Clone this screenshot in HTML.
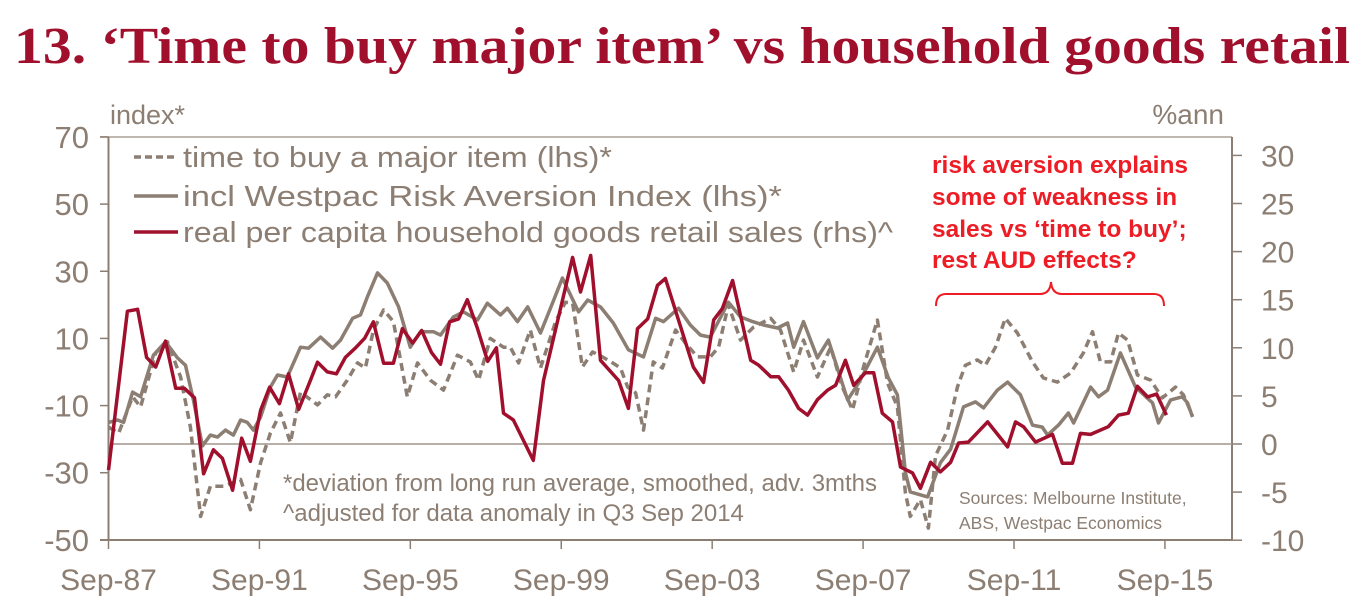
<!DOCTYPE html>
<html><head><meta charset="utf-8"><style>
html,body{margin:0;padding:0;background:#fff;width:1366px;height:613px;overflow:hidden}
svg text{font-family:"Liberation Sans",sans-serif}
</style></head><body>
<svg id="chart" width="1366" height="613" xmlns="http://www.w3.org/2000/svg">
<text x="14" y="63" textLength="1336" lengthAdjust="spacingAndGlyphs" style="font-family:'Liberation Serif',serif;font-weight:bold;font-size:52px" fill="#a0102d">13. ‘Time to buy major item’ vs household goods retail</text>
<text x="110" y="124" font-size="27" fill="#8c7e72">index*</text>
<text x="1224" y="124" font-size="28" fill="#8c7e72" text-anchor="end">%ann</text>
<g id="axes"></g>
<g id="series"></g>
<g>
<line x1="134" y1="157" x2="178" y2="157" stroke="#8c7e72" stroke-width="3.5" stroke-dasharray="7,4"/>
<text x="183" y="167" font-size="29" textLength="429" lengthAdjust="spacingAndGlyphs" fill="#8c7e72">time to buy a major item (lhs)*</text>
<line x1="134" y1="196" x2="178" y2="196" stroke="#8c7e72" stroke-width="3.5"/>
<text x="183" y="206" font-size="29" textLength="599" lengthAdjust="spacingAndGlyphs" fill="#8c7e72">incl Westpac Risk Aversion Index (lhs)*</text>
<line x1="134" y1="232" x2="178" y2="232" stroke="#a0102d" stroke-width="3.5"/>
<text x="183" y="242" font-size="29" textLength="710" lengthAdjust="spacingAndGlyphs" fill="#8c7e72">real per capita household goods retail sales (rhs)^</text>
</g>
<g font-weight="bold" font-size="24.5" fill="#ee1c25">
<text x="932" y="173">risk aversion explains</text>
<text x="932" y="205">some of weakness in</text>
<text x="932" y="237">sales vs ‘time to buy’;</text>
<text x="932" y="268">rest AUD effects?</text>
</g>
<path d="M936,306 Q936,294 946,294 L1040,294 Q1050,294 1051,282 Q1052,294 1062,294 L1154,294 Q1164,294 1164,306" fill="none" stroke="#ee1c25" stroke-width="2"/>
<text x="283" y="491" font-size="24" textLength="594" lengthAdjust="spacingAndGlyphs" fill="#8c7e72">*deviation from long run average, smoothed, adv. 3mths</text>
<text x="283" y="521" font-size="24" fill="#8c7e72">^adjusted for data anomaly in Q3 Sep 2014</text>
<text x="959" y="504" font-size="17.5" fill="#8c7e72">Sources: Melbourne Institute,</text>
<text x="959" y="529" font-size="17.5" fill="#8c7e72">ABS, Westpac Economics</text>
</svg>
<script>
const leftTicks=[70,50,30,10,-10,-30,-50];
const rightTicks=[30,25,20,15,10,5,0,-5,-10];
const xTickYears=[1987.75,1991.75,1995.75,1999.75,2003.75,2007.75,2011.75,2015.75];
const xTickLabels=["Sep-87","Sep-91","Sep-95","Sep-99","Sep-03","Sep-07","Sep-11","Sep-15"];

const retailDates=[1987.75,1988.25,1988.52,1988.76,1989.0,1989.26,1989.53,1989.76,1990.03,1990.27,1990.53,1990.77,1991.04,1991.28,1991.51,1991.78,1992.02,1992.28,1992.52,1992.79,1993.08,1993.29,1993.55,1993.79,1994.03,1994.30,1994.54,1994.77,1995.04,1995.30,1995.54,1995.81,1996.05,1996.31,1996.55,1996.79,1997.03,1997.26,1997.53,1997.80,1998.03,1998.22,1998.48,1999.01,1999.28,2000.05,2000.26,2000.53,2000.79,2001.27,2001.53,2001.77,2002.04,2002.30,2002.51,2003.25,2003.52,2003.79,2004.02,2004.29,2004.77,2004.98,2005.30,2005.51,2005.77,2006.04,2006.28,2006.54,2006.81,2007.02,2007.28,2007.50,2007.81,2008.03,2008.26,2008.53,2008.74,2009.06,2009.27,2009.54,2009.80,2010.07,2010.28,2010.54,2011.05,2011.58,2011.79,2012.0,2012.32,2012.77,2013.03,2013.30,2013.51,2013.78,2014.25,2014.52,2014.78,2015.02,2015.29,2015.53,2015.79];
const retailValues=[-2.7,13.8,14,9,8,10.7,5.8,5.8,4.8,-3.1,-0.6,-1.5,-4.8,0.6,-1.8,3.5,5.9,4.2,7.3,3.6,6.4,8.5,7.5,7.3,9,10,11,12.7,8.4,8.4,12,10.5,11.8,9.5,8.3,12.7,13,15,12,8.6,10,3.2,2.5,-1.7,6.6,19.4,15.8,19.6,8.7,6.6,3.7,12,13,16.5,17.2,8,6.4,12.9,14.1,17,8.7,8.2,7,7,5.6,3.7,3,4.6,5.6,6.1,8.7,6.1,7.4,7.4,3.2,2.3,-2.4,-3,-4.6,-1.9,-2.9,-1.9,0.1,0.2,2.3,-0.3,2.3,1.8,0.2,1,-2,-2,1.1,1,1.8,3,3.2,6,4.9,5.2,3];

const riskDates=[1987.75,1987.99,1988.15,1988.39,1988.6,1988.94,1989.26,1989.58,1989.79,1990.0,1990.24,1990.45,1990.64,1990.85,1991.06,1991.25,1991.43,1991.59,1991.78,1992.04,1992.23,1992.49,1992.84,1993.05,1993.37,1993.69,1993.9,1994.22,1994.43,1994.61,1994.88,1995.14,1995.44,1995.75,1996.02,1996.36,1996.55,1996.89,1997.16,1997.53,1997.79,1998.14,1998.32,1998.59,1998.86,1999.2,1999.55,1999.78,2000.21,2000.45,2000.79,2001.13,2001.53,2001.93,2002.25,2002.46,2002.86,2003.17,2003.44,2003.7,2004.18,2004.5,2004.82,2005.11,2005.48,2005.75,2005.91,2006.17,2006.54,2006.83,2007.34,2007.63,2008.13,2008.42,2008.66,2008.87,2009.0,2009.46,2009.8,2010.07,2010.41,2010.73,2010.94,2011.31,2011.58,2011.92,2012.24,2012.5,2012.64,2012.93,2013.19,2013.33,2013.78,2013.99,2014.23,2014.57,2014.97,2015.42,2015.58,2015.9,2016.21,2016.35,2016.48];
const riskValues=[-15,-14.3,-15,-6,-7.4,5,9,4.2,2,-8.3,-22,-18.8,-19.4,-17.3,-18.8,-14.3,-15,-17.3,-13.4,-4.5,-0.9,-1.5,7.4,7.1,10.4,7.1,9.5,16,17,22.3,29.5,26.5,19.4,7.4,12,12,11,16.4,17.9,15.5,20.5,17,19,15,19.4,11.6,21.4,28,17.9,21.4,19.4,14.6,6.6,4.5,16,15,19,14,11,10.4,20.8,16.4,15,14,13.1,14.6,7.4,15,4.2,9.5,-8.3,-3.3,7.4,-1.8,-6.8,-30,-35.7,-37.2,-27,-23,-10.4,-8.9,-10.7,-5.4,-3,-6.8,-15.8,-16.4,-18.8,-15.8,-12.2,-15.2,-4.5,-7.4,-5.4,5.7,-4.5,-9.2,-15.2,-8.3,-7.4,-9.2,-13.4];

const timeDates=[1987.75,1988.02,1988.39,1988.6,1989.0,1989.31,1989.66,1989.92,1990.19,1990.45,1990.8,1991.04,1991.25,1991.51,1991.78,1992.04,1992.31,1992.57,1992.84,1993.29,1993.55,1993.77,1994.08,1994.35,1994.56,1994.77,1995.04,1995.3,1995.67,1995.94,1996.28,1996.63,1997.0,1997.34,1997.56,1997.87,1998.22,1998.4,1998.62,1998.93,1999.2,1999.6,1999.86,2000.05,2000.31,2000.58,2000.84,2001.11,2001.32,2001.51,2001.72,2001.93,2002.19,2002.43,2002.78,2003.04,2003.36,2003.7,2003.92,2004.18,2004.5,2004.85,2005.3,2005.56,2005.91,2006.17,2006.54,2006.89,2007.2,2007.47,2007.76,2008.13,2008.4,2008.66,2008.87,2009.0,2009.27,2009.48,2009.67,2009.99,2010.25,2010.46,2010.78,2010.99,2011.26,2011.52,2011.84,2012.24,2012.53,2012.9,2013.25,2013.59,2013.83,2014.04,2014.31,2014.52,2014.76,2015.02,2015.37,2015.68,2016.03,2016.24,2016.48];
const timeValues=[-16.4,-18.2,-7.4,-10.4,5.7,9,-1.5,-16.4,-43,-34,-34,-33,-32,-41,-27,-18.2,-12.2,-21,-6,-9.8,-6.8,-7.4,-2.4,2.7,1.2,12.5,18.5,15,-7.4,2.7,-2.4,-5.4,5,3,-2.4,10,7.4,7.4,2.7,12.5,1.2,15,20.8,20.5,1.5,6,4.5,2.7,1.2,-4.5,-6.2,-17.3,3,1.2,12.5,8.6,4.5,4.5,7.4,20,9.5,13.4,16,12.5,0,9.5,-1.5,7.4,-4.5,-11.3,1.5,15.5,-3.3,-10.4,-36,-43,-38,-46.5,-25,-17.3,-4.5,2,3.6,2,7.4,16,11.6,3,-1.8,-3,-0.3,5.7,12,3,3,11.6,9.5,-0.9,-2.4,-7.7,-4.5,-6.8,-13];

const NS="http://www.w3.org/2000/svg";
const X0=108.5,X1=1232,Y0=540;
const xScale=yr=>X0+(yr-1987.75)*37.73;
const yLeft=v=>372-v*3.358;
const yRight=v=>444-v*9.62;
const gray="#8c7e72";
function mk(tag,attrs,parent,text){const e=document.createElementNS(NS,tag);for(const k in attrs)e.setAttribute(k,attrs[k]);if(text!==undefined)e.textContent=text;parent.appendChild(e);return e;}
const axes=document.getElementById('axes');
const series=document.getElementById('series');
let el;
el=mk('line',{x1:100,y1:137,x2:X1,y2:137,stroke:"#aaa095","stroke-width":1.5},axes);


el=mk('line',{x1:X0,y1:137,x2:X0,y2:Y0,stroke:gray,"stroke-width":2},axes);


el=mk('line',{x1:X1,y1:137,x2:X1,y2:Y0,stroke:gray,"stroke-width":2},axes);


el=mk('line',{x1:100,y1:Y0,x2:X1,y2:Y0,stroke:gray,"stroke-width":2},axes);


el=mk('line',{x1:X0,y1:yRight(0),x2:X1,y2:yRight(0),stroke:"#a0968b","stroke-width":1.5},axes);


leftTicks.forEach(v=>{const y=yLeft(v);
 mk('line',{x1:100,y1:y,x2:X0,y2:y,stroke:gray,"stroke-width":1.5},axes);
 el=mk('text',{x:89,y:y+11,"text-anchor":"end","font-size":31,fill:gray},axes,String(v));
 
 });
rightTicks.forEach(v=>{const y=yRight(v);
 mk('line',{x1:X1,y1:y,x2:X1+10,y2:y,stroke:gray,"stroke-width":1.5},axes);
 el=mk('text',{x:1261,y:y+11,"font-size":30,fill:gray},axes,String(v));
 
 });
xTickYears.forEach((yr,i)=>{const x=xScale(yr);
 mk('line',{x1:x,y1:Y0,x2:x,y2:Y0+9,stroke:gray,"stroke-width":1.5},axes);
 el=mk('text',{x:x,y:590,"text-anchor":"middle","font-size":30,fill:gray},axes,xTickLabels[i]);
 
 });
function pts(d,v,ys){return d.map((t,i)=>xScale(t).toFixed(1)+","+ys(v[i]).toFixed(1)).join(" ");}
el=mk('polyline',{points:pts(timeDates,timeValues,yLeft),fill:"none",stroke:gray,"stroke-width":3.5,"stroke-dasharray":"8,5","stroke-linejoin":"round"},series);


el=mk('polyline',{points:pts(riskDates,riskValues,yLeft),fill:"none",stroke:gray,"stroke-width":3.5,"stroke-linejoin":"round"},series);


el=mk('polyline',{points:pts(retailDates,retailValues,yRight),fill:"none",stroke:"#a0102d","stroke-width":3.5,"stroke-linejoin":"round"},series);


</script>
</body></html>
